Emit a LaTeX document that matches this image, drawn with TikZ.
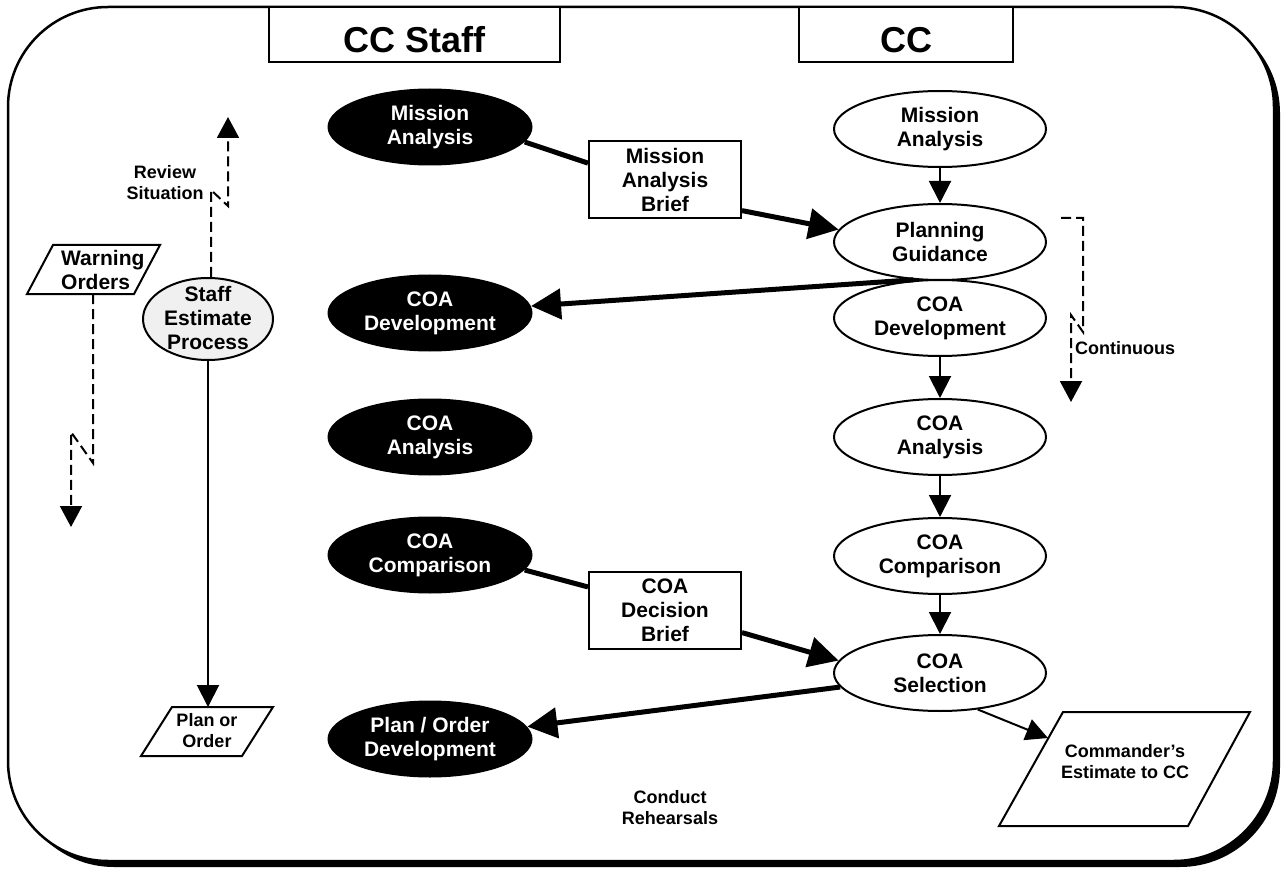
\documentclass[tikz,border=0pt]{standalone}
\usepackage{fontspec}
\setmainfont{Liberation Sans}
\usetikzlibrary{arrows.meta,calc,shapes.geometric}

\begin{document}
\begin{tikzpicture}[x=1pt,y=-1pt,
  lbl/.style={font=\fontsize{18}{21}\selectfont\bfseries, align=center, inner sep=0pt},
  big/.style={font=\fontsize{21}{24}\selectfont\bfseries, align=center},
  head/.style={draw, line width=2pt, fill=white, inner sep=0pt, text height=37pt, text depth=0pt,
               minimum height=55pt, font=\fontsize{36}{40}\selectfont\bfseries},
  blk/.style={ellipse, fill=black, text=white, minimum width=205pt, minimum height=77pt, inner sep=0pt, big},
  wht/.style={ellipse, draw, line width=2pt, fill=white, minimum width=212pt, minimum height=76pt, inner sep=0pt, big},
  brief/.style={draw, line width=2pt, fill=white, minimum width=152pt, minimum height=77pt, inner sep=0pt, big},
  para/.style={draw, line width=2pt, fill=white, line join=miter},
  flow/.style={line width=2pt, -{Triangle[length=22pt,width=22pt]}},
  heavy/.style={line width=5pt, -{Triangle[length=30pt,width=30pt]}},
  link/.style={line width=5pt},
  dashy/.style={line width=2pt, dash pattern=on 10pt off 5pt, -{Triangle[length=21pt,width=22pt]}}
]
\useasboundingbox (0,0) rectangle (1283,869);

% outer frame with drop shadow
\fill[black, rounded corners=100pt] (14,13) rectangle (1280,867);
\draw[line width=2.5pt, fill=white, rounded corners=100pt] (8,7) rectangle (1274,861);

% column headers
\node[head, minimum width=291pt] (hstaff) at (414.5,34.5) {CC Staff};
\node[head, minimum width=214pt] (hcc) at (906,34.5) {CC};

% staff column
\node[blk] (bma) at (430,127) {Mission\\Analysis};
\node[blk] (bcd) at (430,313) {COA\\Development};
\node[blk] (bca) at (430,437) {COA\\Analysis};
\node[blk] (bcc) at (430,555) {COA\\Comparison};
\node[blk] (bpo) at (430,739) {Plan / Order\\Development};

% commander column
\node[wht] (wma) at (940,129) {Mission\\Analysis};
\node[wht] (wpg) at (940,242) {Planning\\Guidance};
\node[wht] (wcd) at (940,318) {COA\\Development};
\node[wht] (wca) at (940,437) {COA\\Analysis};
\node[wht] (wcc) at (940,556) {COA\\Comparison};
\node[wht] (wsel) at (940,673) {COA\\Selection};

% briefs
\node[brief] (mab) at (665,179.5) {Mission\\Analysis\\Brief};
\node[brief] (cdb) at (665,610.5) {COA\\Decision\\Brief};

% staff estimate process
\node[ellipse, draw, line width=2pt, fill=black!6, minimum width=130pt, minimum height=82pt, inner sep=0pt] (sep) at (208,319) {};
\node[big, inner sep=0pt] (septxt) at (208,318) {Staff\\Estimate\\Process};

% warning orders
\draw[para] (53,245) -- (160,245) -- (134,294) -- (27,294) -- cycle;
\node[big, align=left, anchor=west, inner sep=0pt] (wo) at (61,270) {Warning\\Orders};
\coordinate (wobot) at (93,294);

% plan or order
\draw[para] (172,707) -- (273,707) -- (242,756) -- (141,756) -- cycle;
\node[lbl] (po) at (207,731) {Plan or\\Order};
\coordinate (potop) at (208,707);

% commander's estimate
\draw[para] (1063,712) -- (1250,712) -- (1188,826) -- (999,826) -- cycle;
\node[lbl] (cest) at (1125,762) {Commander’s\\Estimate to CC};
\coordinate (cestin) at (1048,738);

% free labels
\node[lbl] (rsit) at (165,183) {Review\\Situation};
\node[lbl, anchor=west] (cont) at (1075,348) {Continuous};
\node[lbl] (reh) at (670,808) {Conduct\\Rehearsals};

% commander sequence
\draw[flow] (wma) -- (wpg);
\draw[flow] (wcd) -- (wca);
\draw[flow] (wca) -- (wcc);
\draw[flow] (wcc) -- (wsel);

% briefs and guidance
\draw[link] (bma.-9) -- (mab.168);
\draw[heavy] (mab.-22) -- (wpg.173);
\draw[heavy] (wpg.235) -- (bcd);
\draw[link] (bcc.-9) -- (cdb.163);
\draw[heavy] (cdb.-16) -- (wsel.173);
\draw[heavy] (wsel.188) -- (bpo);
\draw[flow] (wsel.-44) -- (cestin);

% staff estimate to plan
\draw[flow] (sep.south) -- (potop);

% dashed lightning connectors
\coordinate (rs1) at (211,190);
\coordinate (rs2) at (228,206);
\coordinate (rs3) at (228,117);
\draw[dashy] (sep.north -| rs1) -- (rs1) -- (rs2) -- (rs3);

\coordinate (wo1) at (93,463);
\coordinate (wo2) at (71,432);
\coordinate (wo3) at (71,527);
\draw[dashy] (wobot) -- (wo1) -- (wo2) -- (wo3);

\coordinate (ct0) at (1061,218);
\coordinate (ct1) at (1083,218);
\coordinate (ct2) at (1083,332);
\coordinate (ct3) at (1071,315);
\coordinate (ct4) at (1071,402);
\draw[dashy] (ct0) -- (ct1) -- (ct2) -- (ct3) -- (ct4);
\end{tikzpicture}
\end{document}
